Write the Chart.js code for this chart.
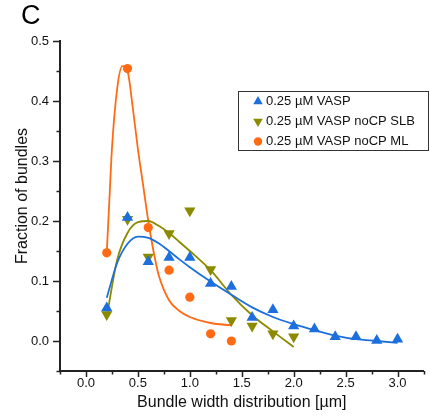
<!DOCTYPE html>
<html>
<head>
<meta charset="utf-8">
<script src="https://cdn.jsdelivr.net/npm/chart.js@4.4.0/dist/chart.umd.min.js"></script>
<style>
  html, body { margin: 0; padding: 0; background: #fff; }
  #wrap { width: 430px; height: 417px; }
</style>
</head>
<body>
<div id="wrap"><canvas id="myChart" width="430" height="417"></canvas></div>
<script>
// measured points
const vaspX = [0.2, 0.4, 0.6, 0.8, 1.0, 1.2, 1.4, 1.6, 1.8, 2.0, 2.2, 2.4, 2.6, 2.8, 3.0];
const vaspY = [0.055, 0.206, 0.132, 0.139, 0.139, 0.096, 0.091, 0.039, 0.052, 0.025, 0.020, 0.007, 0.007, 0.001, 0.003];
const slbX = [0.2, 0.4, 0.6, 0.8, 1.0, 1.2, 1.4, 1.6, 1.8, 2.0];
const slbY = [0.044, 0.203, 0.140, 0.179, 0.217, 0.119, 0.034, 0.025, 0.012, 0.007];
const mlX = [0.2, 0.4, 0.6, 0.8, 1.0, 1.2, 1.4];
const mlY = [0.147, 0.454, 0.189, 0.118, 0.073, 0.012, 0.000];

// fit curves
const vaspFitX = [0.2, 0.3, 0.4, 0.5, 0.6, 0.7, 0.8, 0.9, 1.0, 1.2, 1.4, 1.6, 1.8, 2.0, 2.2, 2.4, 2.6, 2.8, 3.0];
const vaspFitY = [0.072, 0.13, 0.162, 0.174, 0.172, 0.163, 0.150, 0.136, 0.123, 0.099, 0.077, 0.056, 0.040, 0.028, 0.018, 0.009, 0.003, 0.0, -0.003];
const slbFitX = [0.2, 0.3, 0.4, 0.5, 0.6, 0.7, 0.8, 0.9, 1.0, 1.2, 1.4, 1.6, 1.8, 2.0];
const slbFitY = [0.04, 0.135, 0.18, 0.198, 0.2, 0.192, 0.18, 0.165, 0.15, 0.118, 0.077, 0.043, 0.016, -0.01];
const mlFitX = [0.2, 0.225, 0.25, 0.3, 0.35, 0.4, 0.45, 0.5, 0.55, 0.6, 0.65, 0.7, 0.8, 0.9, 1.0, 1.2, 1.4];
const mlFitY = [0.147, 0.233, 0.32, 0.42, 0.458, 0.45, 0.39, 0.32, 0.26, 0.2, 0.15, 0.11, 0.068, 0.05, 0.04, 0.03, 0.026];

const seriesLabels = ['0.25 \u00b5M VASP', '0.25 \u00b5M VASP noCP SLB', '0.25 \u00b5M VASP noCP ML'];
const xTickLabels = ['0.0', '0.5', '1.0', '1.5', '2.0', '2.5', '3.0'];
const yTickLabels = ['0.0', '0.1', '0.2', '0.3', '0.4', '0.5'];

const blue = '#1c6fdc';
const olive = '#8c8a00';
const orange = '#ff6a13';
const axisColor = '#222';
const fontName = '"Liberation Sans", Arial, sans-serif';

function pts(xs, ys) {
  return xs.map((x, i) => ({ x: x, y: ys[i] }));
}

function isMajorX(v) { return xTickLabels.indexOf(v.toFixed(1)) >= 0 && Math.abs(v * 2 - Math.round(v * 2)) < 1e-6; }
function isMajorY(v) { return yTickLabels.indexOf(v.toFixed(1)) >= 0 && Math.abs(v * 10 - Math.round(v * 10)) < 1e-6; }

function drawMarker(ctx, style, x, y, r, color) {
  ctx.fillStyle = color;
  ctx.beginPath();
  if (style === 'circle') {
    ctx.arc(x, y, r, 0, Math.PI * 2);
  } else if (style === 'up') {
    ctx.moveTo(x, y - r);
    ctx.lineTo(x + r * 0.866, y + r / 2);
    ctx.lineTo(x - r * 0.866, y + r / 2);
  } else {
    ctx.moveTo(x, y + r);
    ctx.lineTo(x + r * 0.866, y - r / 2);
    ctx.lineTo(x - r * 0.866, y - r / 2);
  }
  ctx.closePath();
  ctx.fill();
}

// ticks, panel letter, y title and boxed legend
const extras = {
  id: 'extras',
  afterDraw(chart) {
    const ctx = chart.ctx;
    const xs = chart.scales.x, ys = chart.scales.y;
    const area = chart.chartArea;
    ctx.save();
    ctx.strokeStyle = axisColor;
    ctx.lineWidth = 1.5;
    xs.ticks.forEach(t => {
      const px = Math.round(xs.getPixelForValue(t.value)) + 0.5;
      ctx.beginPath();
      ctx.moveTo(px, area.bottom);
      ctx.lineTo(px, area.bottom + (isMajorX(t.value) ? 6 : 3.5));
      ctx.stroke();
    });
    ys.ticks.forEach(t => {
      const py = Math.round(ys.getPixelForValue(t.value)) + 0.5;
      ctx.beginPath();
      ctx.moveTo(area.left, py);
      ctx.lineTo(area.left - (isMajorY(t.value) ? 7 : 3.5), py);
      ctx.stroke();
    });

    // panel letter
    ctx.fillStyle = '#000';
    ctx.font = '27px ' + fontName;
    ctx.textAlign = 'left';
    ctx.textBaseline = 'alphabetic';
    ctx.fillText('C', 21, 24);

    // y title
    ctx.save();
    ctx.translate(27, 196);
    ctx.rotate(-Math.PI / 2);
    ctx.font = '16px ' + fontName;
    ctx.textAlign = 'center';
    ctx.textBaseline = 'alphabetic';
    ctx.fillStyle = '#111';
    ctx.fillText('Fraction of bundles', 0, 0);
    ctx.restore();

    // legend
    ctx.strokeStyle = '#333';
    ctx.lineWidth = 1;
    ctx.strokeRect(238.5, 91.5, 190, 59);
    const styles = ['up', 'down', 'circle'];
    const colors = [blue, olive, orange];
    ctx.font = '13px ' + fontName;
    ctx.textBaseline = 'middle';
    ctx.textAlign = 'left';
    seriesLabels.forEach((lab, i) => {
      const yy = 101.5 + i * 20;
      drawMarker(ctx, styles[i], 258, yy, styles[i] === 'circle' ? 4.2 : 5.5, colors[i]);
      ctx.fillStyle = '#111';
      ctx.fillText(lab, 266, yy);
    });
    ctx.restore();
  }
};

var ctx = document.getElementById('myChart').getContext('2d');
var myChart = new Chart(ctx, {
  type: 'scatter',
  data: {
    datasets: [
      { label: seriesLabels[0] + ' fit', type: 'line', data: pts(vaspFitX, vaspFitY), borderColor: blue, borderWidth: 1.8, pointRadius: 0, cubicInterpolationMode: 'monotone', fill: false, order: 2 },
      { label: seriesLabels[1] + ' fit', type: 'line', data: pts(slbFitX, slbFitY), borderColor: olive, borderWidth: 1.8, pointRadius: 0, cubicInterpolationMode: 'monotone', fill: false, order: 2 },
      { label: seriesLabels[2] + ' fit', type: 'line', data: pts(mlFitX, mlFitY), borderColor: orange, borderWidth: 1.8, pointRadius: 0, cubicInterpolationMode: 'monotone', fill: false, order: 2 },
      { label: seriesLabels[0], data: pts(vaspX, vaspY), pointStyle: 'triangle', pointRadius: 6.5, backgroundColor: blue, borderColor: blue, borderWidth: 0, order: 1 },
      { label: seriesLabels[1], data: pts(slbX, slbY), pointStyle: 'triangle', rotation: 180, pointRadius: 6.5, backgroundColor: olive, borderColor: olive, borderWidth: 0, order: 1 },
      { label: seriesLabels[2], data: pts(mlX, mlY), pointStyle: 'circle', pointRadius: 4.6, backgroundColor: orange, borderColor: orange, borderWidth: 0, order: 1 }
    ]
  },
  options: {
    responsive: false,
    animation: false,
    layout: { padding: { top: 41, right: 0, left: 0, bottom: 0 } },
    plugins: { legend: { display: false }, tooltip: { enabled: false } },
    scales: {
      x: {
        type: 'linear',
        min: -0.25,
        max: 3.25,
        afterFit: (scale) => { scale.height = 46; },
        border: { display: true, color: axisColor, width: 2 },
        grid: { drawOnChartArea: false, drawTicks: false },
        ticks: {
          stepSize: 0.25,
          autoSkip: false,
          maxTicksLimit: 100,
          maxRotation: 0,
          padding: 5,
          color: '#111',
          font: { family: fontName, size: 13 },
          callback: (v) => isMajorX(v) ? Number(v).toFixed(1) : ''
        },
        title: {
          display: true,
          text: 'Bundle width distribution [\u00b5m]',
          color: '#111',
          font: { family: fontName, size: 16 },
          padding: { top: 0, bottom: 5 }
        }
      },
      y: {
        type: 'linear',
        min: -0.05,
        max: 0.5,
        afterFit: (scale) => { scale.width = 60; },
        border: { display: true, color: axisColor, width: 2 },
        grid: { drawOnChartArea: false, drawTicks: false },
        ticks: {
          stepSize: 0.05,
          autoSkip: false,
          maxTicksLimit: 100,
          padding: 11,
          color: '#111',
          font: { family: fontName, size: 13 },
          callback: (v) => isMajorY(v) ? Number(v).toFixed(1) : ''
        }
      }
    }
  },
  plugins: [extras]
});
</script>
</body>
</html>
